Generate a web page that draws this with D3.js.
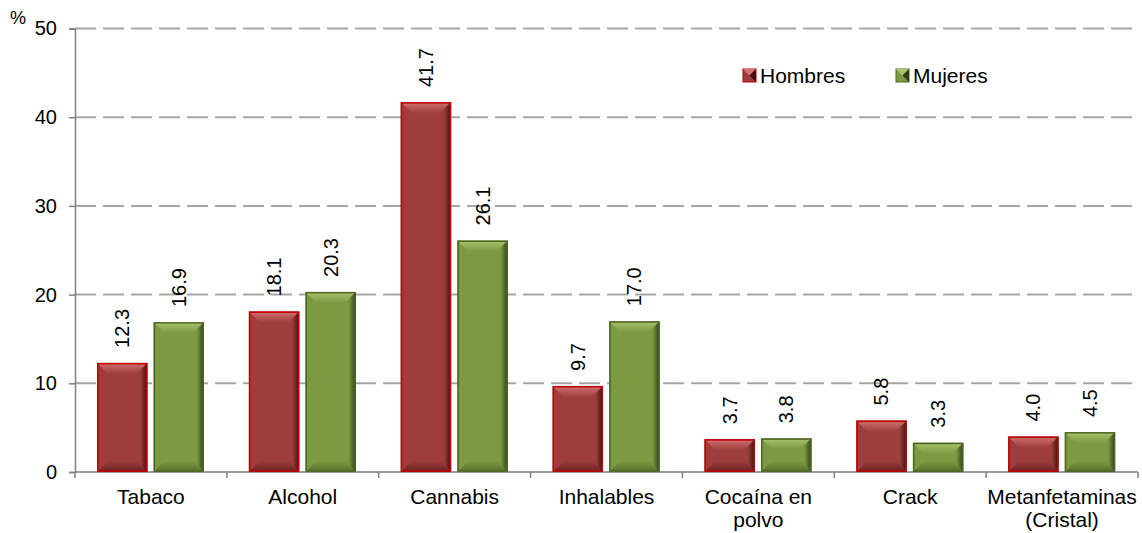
<!DOCTYPE html>
<html lang="es">
<head>
<meta charset="utf-8">
<title>Consumo por sexo</title>
<script src="https://d3js.org/d3.v7.min.js"></script>
<style>
  body { margin: 0; background: #fff; }
  svg { display: block; font-family: Arial, "Liberation Sans", sans-serif; }
</style>
</head>
<body>
<script>
// data
var categories = ["Tabaco", "Alcohol", "Cannabis", "Inhalables", "Cocaína en\npolvo", "Crack", "Metanfetaminas\n(Cristal)"];
var series = ["Hombres", "Mujeres"];
var hombres = [12.3, 18.1, 41.7, 9.7, 3.7, 5.8, 4.0];
var mujeres = [16.9, 20.3, 26.1, 17.0, 3.8, 3.3, 4.5];
var yTicks = [0, 10, 20, 30, 40, 50];

var w = 1142, h = 533;
var plotLeft = 75, plotRight = 1138, plotTop = 28.5, plotBottom = 472;

// colours for each series: main, light top, dark right, bottom, outline
var pal = {
  Hombres: { id: "h", main: "#9d3d3d", top: "#d27272", side: "#3e1010", bot: "#6a2222", line: "#c00000" },
  Mujeres: { id: "m", main: "#7c9a41", top: "#a8c46c", side: "#2f3c15", bot: "#55702a", line: "#4f6426" }
};

var svg = d3.select("body").append("svg")
  .attr("width", w)
  .attr("height", h);

// gradients for the bevel faces
var defs = svg.append("defs");
series.forEach(function(s) {
  var c = pal[s];
  var gt = defs.append("linearGradient").attr("id", "top-" + c.id)
    .attr("x1", 0).attr("y1", 0).attr("x2", 0).attr("y2", 1);
  gt.append("stop").attr("offset", "0%").attr("stop-color", c.top);
  gt.append("stop").attr("offset", "100%").attr("stop-color", c.main);
  var gs = defs.append("linearGradient").attr("id", "side-" + c.id)
    .attr("x1", 0).attr("y1", 0).attr("x2", 1).attr("y2", 0);
  gs.append("stop").attr("offset", "0%").attr("stop-color", c.main);
  gs.append("stop").attr("offset", "100%").attr("stop-color", c.side);
  var gb = defs.append("linearGradient").attr("id", "bot-" + c.id)
    .attr("x1", 0).attr("y1", 0).attr("x2", 0).attr("y2", 1);
  gb.append("stop").attr("offset", "0%").attr("stop-color", c.main);
  gb.append("stop").attr("offset", "100%").attr("stop-color", c.bot);
});

var x0 = d3.scaleBand().domain(categories).range([plotLeft, plotRight]);
var x1 = d3.scaleBand().domain(series).range([22, 129]).paddingInner(0.11);
var y = d3.scaleLinear().domain([0, 50]).range([plotBottom, plotTop]);

// gridlines
svg.append("g")
  .selectAll("line")
  .data(yTicks.filter(function(d) { return d > 0; }))
  .enter()
  .append("line")
  .attr("x1", plotLeft)
  .attr("x2", plotRight)
  .attr("y1", function(d) { return y(d); })
  .attr("y2", function(d) { return y(d); })
  .attr("stroke", "#a6a6a6")
  .attr("stroke-width", 2)
  .attr("stroke-dasharray", "21,7");

// y axis
var yAxis = svg.append("g")
  .attr("transform", "translate(" + plotLeft + ",0)")
  .call(d3.axisLeft(y).tickValues(yTicks).tickSize(6).tickPadding(12));
yAxis.select(".domain").attr("stroke", "#7f7f7f").attr("stroke-width", 1.5);
yAxis.selectAll(".tick line").attr("stroke", "#7f7f7f").attr("stroke-width", 1.5);
yAxis.selectAll(".tick text")
  .attr("font-size", "20px")
  .attr("font-family", "Arial, 'Liberation Sans', sans-serif")
  .attr("fill", "#000");

svg.append("text")
  .attr("x", 10)
  .attr("y", 24)
  .attr("font-size", "18px")
  .text("%");

// x axis
var xAxis = svg.append("g")
  .attr("transform", "translate(0," + plotBottom + ")");
xAxis.append("line")
  .attr("x1", plotLeft).attr("x2", plotRight)
  .attr("y1", 0).attr("y2", 0)
  .attr("stroke", "#7f7f7f")
  .attr("stroke-width", 1.5);
var bounds = categories.map(function(c) { return x0(c); }).concat([plotRight]);
xAxis.selectAll("line.tk")
  .data(bounds)
  .enter()
  .append("line")
  .attr("class", "tk")
  .attr("x1", function(d) { return d; })
  .attr("x2", function(d) { return d; })
  .attr("y1", 0).attr("y2", 6)
  .attr("stroke", "#7f7f7f")
  .attr("stroke-width", 1.5);

xAxis.selectAll("text")
  .data(categories)
  .enter()
  .append("text")
  .attr("text-anchor", "middle")
  .attr("font-size", "21px")
  .attr("x", function(d) { return x0(d) + x0.bandwidth() / 2; })
  .attr("y", 32)
  .each(function(d) {
    var t = d3.select(this);
    d.split("\n").forEach(function(line, i) {
      t.append("tspan")
        .attr("x", x0(d) + x0.bandwidth() / 2)
        .attr("dy", i === 0 ? 0 : 23)
        .text(line);
    });
  });

// bars
var rows = [];
categories.forEach(function(c, i) {
  rows.push({ cat: c, s: "Hombres", v: hombres[i] });
  rows.push({ cat: c, s: "Mujeres", v: mujeres[i] });
});

var bars = svg.append("g")
  .selectAll("g")
  .data(rows)
  .enter()
  .append("g");

bars.each(function(d) {
  var g = d3.select(this);
  var c = pal[d.s];
  var bx = x0(d.cat) + x1(d.s);
  var bw = x1.bandwidth();
  var by = y(d.v);
  var bh = plotBottom - by;
  var b = Math.min(11, bh / 2);
  var sb = Math.min(7, bh / 2);

  g.append("rect")
    .attr("x", bx).attr("y", by)
    .attr("width", bw).attr("height", bh)
    .attr("fill", c.main);
  // top bevel
  g.append("polygon")
    .attr("points", [[bx, by], [bx + bw, by], [bx + bw - b, by + b], [bx + b, by + b]].join(" "))
    .attr("fill", "url(#top-" + c.id + ")");
  // bottom bevel
  g.append("polygon")
    .attr("points", [[bx, by + bh], [bx + bw, by + bh], [bx + bw - b, by + bh - b], [bx + b, by + bh - b]].join(" "))
    .attr("fill", "url(#bot-" + c.id + ")");
  // right side
  g.append("polygon")
    .attr("points", [[bx + bw, by], [bx + bw, by + bh], [bx + bw - sb, by + bh - sb], [bx + bw - sb, by + sb]].join(" "))
    .attr("fill", "url(#side-" + c.id + ")");
  // outline
  g.append("rect")
    .attr("x", bx + 0.75).attr("y", by + 0.75)
    .attr("width", bw - 1.5).attr("height", bh - 1.5)
    .attr("fill", "none")
    .attr("stroke", c.line)
    .attr("stroke-width", 1.5);

  // value label
  var cx = bx + bw / 2;
  var ly = by - 15;
  g.append("text")
    .attr("transform", "translate(" + cx + "," + ly + ") rotate(-90)")
    .attr("dy", "0.35em")
    .attr("font-size", "20px")
    .attr("fill", "#000")
    .text(d3.format(".1f")(d.v));
});

// legend
var legend = svg.append("g");
var legX = [743, 896];
series.forEach(function(s, i) {
  var c = pal[s];
  var lx = legX[i], ly = 69, sz = 13;
  legend.append("rect")
    .attr("x", lx).attr("y", ly)
    .attr("width", sz).attr("height", sz)
    .attr("fill", c.main)
    .attr("stroke", c.line)
    .attr("stroke-width", 1);
  legend.append("polygon")
    .attr("points", [[lx, ly], [lx + sz, ly], [lx + sz / 2, ly + sz / 2]].join(" "))
    .attr("fill", c.top);
  legend.append("polygon")
    .attr("points", [[lx + sz, ly], [lx + sz, ly + sz], [lx + sz / 2, ly + sz / 2]].join(" "))
    .attr("fill", c.side);
  legend.append("text")
    .attr("x", lx + sz + 4)
    .attr("y", 83)
    .attr("font-size", "21px")
    .text(s);
});
</script>
</body>
</html>
